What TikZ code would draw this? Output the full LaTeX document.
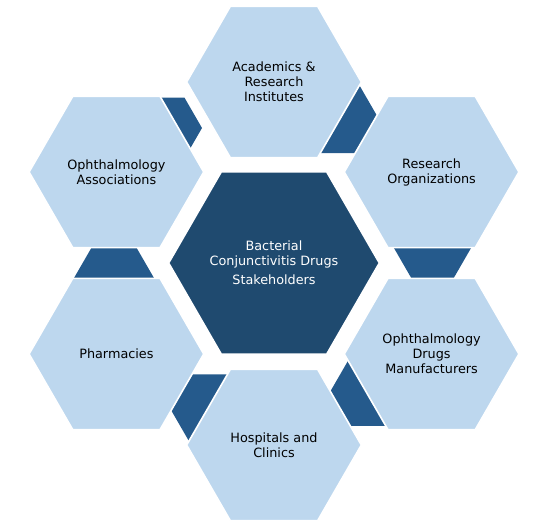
\documentclass[tikz,border=0pt]{standalone}
\usepackage{fontspec}
\setmainfont{DejaVu Sans}
\usepackage{xcolor}
\usepackage{tikz}
\usetikzlibrary{shapes.geometric}
\definecolor{L0}{HTML}{BDD7EE}
\definecolor{D0}{HTML}{1F4A6F}
\definecolor{D1}{HTML}{255A8C}
\tikzset{
  hexbase/.style={regular polygon, regular polygon sides=6, inner sep=0pt, align=center, font=\fontsize{9.6}{11.2}\selectfont},
  outerhex/.style={hexbase, fill=L0, draw=white, line width=1.2pt, minimum size=131pt, text=black},
  centerhex/.style={hexbase, fill=D0, draw=white, line width=1.2pt, minimum size=158pt, text=white},
  linkhex/.style={regular polygon, regular polygon sides=6, inner sep=0pt, fill=D1},
}

\begin{document}
\begin{tikzpicture}[x=0.75pt,y=-0.75pt]%
\useasboundingbox (0,0) rectangle (544,529);%
% small links between the outer hexagons
\node[linkhex, minimum size=60pt] (linkRM) at (432.5,245.5) {};%
\node[linkhex, minimum size=61.5pt] (linkAR) at (337,117.5) {};%
\node[linkhex, minimum size=52.5pt] (linkOA) at (167,128) {};%
\node[linkhex, minimum size=60pt] (linkPO) at (114,278) {};%
\node[linkhex, minimum size=61.5pt] (linkHP) at (212,410) {};%
\node[linkhex, minimum size=58.5pt] (linkMH) at (369,392) {};%
% outer hexagons
\node[outerhex] (academics) at (274,82) {Academics \&\\Research\\Institutes};%
\node[outerhex] (research) at (431.6,172) {Research\\Organizations};%
\node[outerhex] (manufacturers) at (431.6,354) {Ophthalmology\\Drugs\\Manufacturers};%
\node[outerhex] (hospitals) at (274,445) {Hospitals and\\Clinics};%
\node[outerhex] (pharmacies) at (116.4,354) {Pharmacies};%
\node[outerhex] (associations) at (116.4,172) {Ophthalmology\\Associations};%
% centre
\node[centerhex] (stakeholders) at (274,263) {Bacterial\\Conjunctivitis Drugs\\[3pt]Stakeholders};%
\end{tikzpicture}
\end{document}
